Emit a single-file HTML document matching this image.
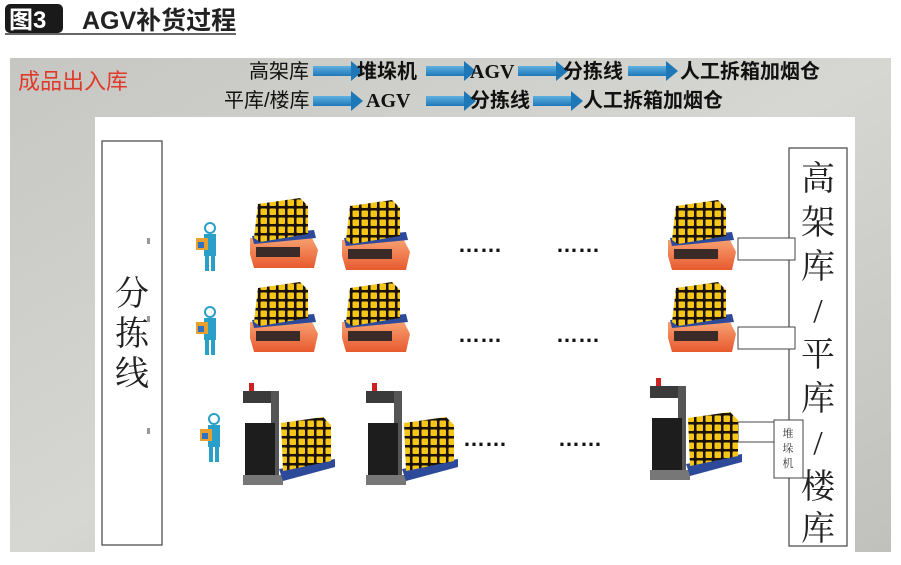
<!DOCTYPE html>
<html><head><meta charset="utf-8"><style>
body{margin:0;width:901px;height:560px;background:#fff;overflow:hidden;font-family:"Liberation Sans","Noto Sans CJK SC",sans-serif}
</style></head><body>
<svg width="901" height="560" xmlns="http://www.w3.org/2000/svg">
<defs>
<linearGradient id="bg" x1="0" y1="0" x2="1" y2="1">
<stop offset="0" stop-color="#c6c6c2"/><stop offset="0.5" stop-color="#d6d6d2"/><stop offset="1" stop-color="#c0c0bc"/>
</linearGradient>
<linearGradient id="arr" x1="0" y1="0" x2="0" y2="1"><stop offset="0" stop-color="#5fb0e0"/><stop offset="1" stop-color="#1e78b8"/></linearGradient>
<linearGradient id="org" x1="0" y1="0" x2="0" y2="1"><stop offset="0" stop-color="#f7a070"/><stop offset="1" stop-color="#e85a30"/></linearGradient>
<pattern id="grid" width="9" height="9" patternUnits="userSpaceOnUse"><rect width="9" height="9" fill="#1a1208"/><rect x="1.5" y="1.5" width="6.5" height="6.5" rx="1" fill="#f5c518"/></pattern>
<g id="agv">
<path d="M0 40 L62 40 L68 52 L64 70 L4 70 L0 56Z" fill="url(#org)"/>
<rect x="6" y="49" width="44" height="10" fill="#3a2a28"/>
<path d="M2 38 L64 32 L66 40 L4 46Z" fill="#2d4a9a"/>
<path d="M8 6 L50 0 L58 8 L58 36 L10 44 L4 40Z" fill="url(#grid)"/>
</g>
<g id="fork">
<rect x="6" y="0" width="5" height="8" fill="#c22"/>
<rect x="0" y="8" width="36" height="12" fill="#3a3a3a"/>
<rect x="28" y="8" width="8" height="90" fill="#555"/>
<rect x="2" y="40" width="30" height="56" fill="#1d1d1d"/>
<rect x="0" y="92" width="40" height="10" fill="#777"/>
<path d="M36 86 L92 76 L92 84 L40 98Z" fill="#2d4a9a"/>
<path d="M38 40 L80 34 L88 42 L88 78 L40 88Z" fill="url(#grid)"/>
</g>
<g id="man">
<circle cx="14" cy="6" r="5" fill="#fff" stroke="#2aa0c8" stroke-width="2"/>
<rect x="8" y="12" width="12" height="22" fill="#2aa0c8"/>
<rect x="0" y="16" width="12" height="12" fill="#e8a030"/>
<rect x="2" y="20" width="6" height="6" fill="#3070c0"/>
<rect x="9" y="33" width="4" height="16" fill="#2aa0c8"/><rect x="15" y="33" width="4" height="16" fill="#2aa0c8"/>
</g>
<g id="a"><rect x="0" y="-5" width="40" height="10" fill="url(#arr)"/><path d="M38 -10 L50 0 L38 10Z" fill="#1e78b8"/></g>
</defs>
<rect x="5" y="4" width="58" height="29" rx="5" fill="#1a1a1a"/>
<text x="9" y="28" font-size="24" font-weight="bold" fill="#fff">图3</text>
<text x="82" y="29" font-size="25" font-weight="bold" fill="#222">AGV补货过程</text>
<line x1="5" y1="34" x2="236" y2="34" stroke="#333" stroke-width="1.5"/>
<rect x="10" y="58" width="881" height="494" fill="url(#bg)"/>
<text x="18" y="89" font-size="22" fill="#e03a2a">成品出入库</text>
<g font-size="20" fill="#111">
<text x="249" y="78">高架库</text><use href="#a" x="313" y="71"/>
<text x="357" y="78" font-weight="bold">堆垛机</text><use href="#a" x="426" y="71"/>
<text x="470" y="78" font-weight="bold" font-family="Liberation Serif,serif">AGV</text><use href="#a" x="518" y="71"/>
<text x="563" y="78" font-weight="bold">分拣线</text><use href="#a" x="628" y="71"/>
<text x="680" y="78" font-weight="bold">人工拆箱加烟仓</text>
<text x="224" y="107">平库/楼库</text><use href="#a" x="313" y="101"/>
<text x="366" y="107" font-weight="bold" font-family="Liberation Serif,serif">AGV</text><use href="#a" x="426" y="101"/>
<text x="470" y="107" font-weight="bold">分拣线</text><use href="#a" x="533" y="101"/>
<text x="583" y="107" font-weight="bold">人工拆箱加烟仓</text>
</g>
<rect x="95" y="117" width="760" height="435" fill="#fff"/>
<rect x="102" y="141" width="60" height="404" fill="#fff" stroke="#444" stroke-width="1.2"/>
<g font-size="34" fill="#222" font-family="Liberation Serif,Noto Serif CJK SC,serif" text-anchor="middle">
<text x="132" y="305">分</text><text x="132" y="345">拣</text><text x="132" y="385">线</text>
<text x="818" y="190">高</text><text x="818" y="234">架</text><text x="818" y="278">库</text><text x="818" y="322">/</text><text x="818" y="366">平</text><text x="818" y="410">库</text><text x="818" y="454">/</text><text x="818" y="498">楼</text><text x="818" y="540">库</text>
</g>
<rect x="789" y="148" width="58" height="398" fill="none" stroke="#444" stroke-width="1.2"/>
<rect x="738" y="238" width="57" height="22" fill="#fff" stroke="#444"/>
<rect x="738" y="327" width="57" height="22" fill="#fff" stroke="#444"/>
<rect x="738" y="422" width="40" height="20" fill="#fff" stroke="#444"/>
<rect x="774" y="420" width="29" height="58" fill="#fff" stroke="#444"/>
<g font-size="11" fill="#333" text-anchor="middle" font-family="Noto Serif CJK SC,serif"><text x="788" y="437">堆</text><text x="788" y="452">垛</text><text x="788" y="467">机</text></g>
<g fill="#999"><rect x="147" y="238" width="3" height="6"/><rect x="147" y="316" width="3" height="6"/><rect x="147" y="428" width="3" height="6"/></g>
<use href="#man" x="196" y="222"/><use href="#man" x="196" y="306"/><use href="#man" x="200" y="413"/>
<use href="#agv" x="250" y="198"/><use href="#agv" x="342" y="200"/><use href="#agv" x="668" y="200"/>
<use href="#agv" x="250" y="282"/><use href="#agv" x="342" y="282"/><use href="#agv" x="668" y="282"/>
<use href="#fork" x="243" y="383"/><use href="#fork" x="366" y="383"/><use href="#fork" x="650" y="378"/>
<g font-size="22" font-weight="bold" fill="#111">
<text x="458" y="252">……</text><text x="556" y="252">……</text>
<text x="458" y="342">……</text><text x="556" y="342">……</text>
<text x="463" y="446">……</text><text x="558" y="446">……</text>
</g>
</svg>
</body></html>
